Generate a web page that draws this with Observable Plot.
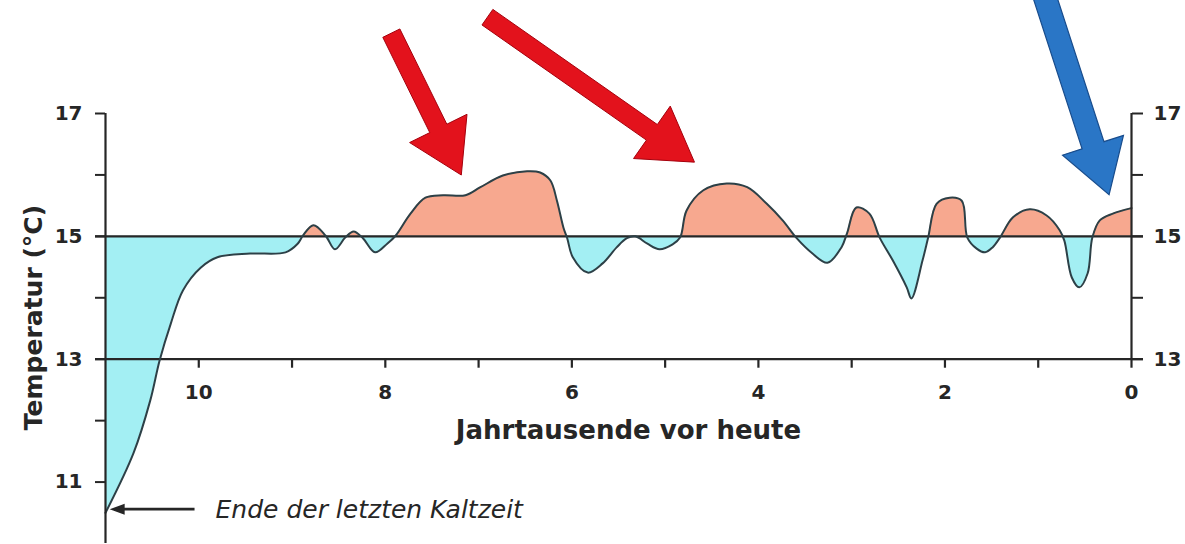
<!DOCTYPE html>
<html>
<head>
<meta charset="utf-8">
<script src="https://cdn.jsdelivr.net/npm/d3@7"></script>
<script src="https://cdn.jsdelivr.net/npm/@observablehq/plot@0.6"></script>
<style>
  html, body { margin: 0; padding: 0; background: #fff; }
  #chart svg { display: block; }
</style>
</head>
<body>
<div id="chart"></div>
<script>
// ---- data ----
const years = [11.0, 10.70, 10.52, 10.42, 10.30, 10.17, 9.98, 9.80, 9.45, 9.07, 8.94, 8.88, 8.77, 8.64, 8.54, 8.43, 8.34, 8.24, 8.11, 7.98, 7.89, 7.73, 7.57, 7.38, 7.14, 6.98, 6.74, 6.48, 6.34, 6.23, 6.16, 6.09, 6.05, 5.99, 5.83, 5.67, 5.52, 5.41, 5.32, 5.19, 5.06, 4.92, 4.84, 4.77, 4.59, 4.34, 4.12, 3.91, 3.74, 3.59, 3.42, 3.26, 3.11, 3.05, 2.95, 2.81, 2.70, 2.56, 2.41, 2.36, 2.24, 2.18, 2.09, 1.95, 1.82, 1.76, 1.66, 1.57, 1.49, 1.41, 1.27, 1.09, 0.91, 0.77, 0.72, 0.64, 0.56, 0.47, 0.42, 0.34, 0.20, 0.0];
const temps = [10.50, 11.47, 12.33, 12.98, 13.58, 14.12, 14.49, 14.66, 14.72, 14.74, 14.88, 15.02, 15.18, 15.01, 14.79, 14.98, 15.08, 14.97, 14.74, 14.88, 15.01, 15.37, 15.63, 15.67, 15.67, 15.80, 15.99, 16.06, 16.04, 15.91, 15.58, 15.14, 14.97, 14.66, 14.41, 14.56, 14.82, 14.97, 15.00, 14.88, 14.79, 14.87, 14.98, 15.42, 15.75, 15.86, 15.80, 15.53, 15.26, 14.97, 14.72, 14.57, 14.82, 15.05, 15.47, 15.37, 14.98, 14.61, 14.17, 13.99, 14.61, 14.98, 15.53, 15.63, 15.58, 14.98, 14.80, 14.74, 14.82, 14.98, 15.31, 15.44, 15.34, 15.10, 14.93, 14.33, 14.17, 14.40, 14.98, 15.26, 15.37, 15.46];
const baseline = 15;
const xAxisLevel = 13;
const leftTicks = [11, 12, 13, 14, 15, 16, 17];
const rightTicks = [13, 14, 15, 16, 17];
const xTicks = [10, 9, 8, 7, 6, 5, 4, 3, 2, 1, 0];
const xLabels = [10, 8, 6, 4, 2, 0];
const xTitle = "Jahrtausende vor heute";
const yTitle = "Temperatur (°C)";
const noteText = "Ende der letzten Kaltzeit";
const noteFromYear = 10.04, noteToYear = 10.95, noteTemp = 10.55, noteTextYear = 9.82;
const arrowKinds = ["warm", "warm", "cold"];
const arrowFromYear = [7.93, 6.90, 0.93];
const arrowFromTemp = [18.30, 18.56, 18.92];
const arrowToYear = [7.18, 4.68, 0.235];
const arrowToTemp = [15.99, 16.20, 15.67];

// ---- styles ----
const INK = "#262626";
const LINE = "#2c4047";
const WARM = "#f7a88f";
const COLD = "#a3eff3";
const CURVE = "catmull-rom";
const arrowStyle = {
  warm: {shaft: 19, headW: 64, headL: 52, fill: "#e3121c", stroke: "#a5000c", sw: 1},
  cold: {shaft: 23, headW: 64, headL: 52, fill: "#2a76c6", stroke: "#184c8c", sw: 1.2},
  note: {shaft: 2.8, headW: 11, headL: 15, fill: INK, stroke: "none", sw: 0}
};

const data = years.map((year, i) => ({year, temp: temps[i]}));
const bigArrows = arrowKinds.map((kind, i) => ({kind, x1: arrowFromYear[i], y1: arrowFromTemp[i], x2: arrowToYear[i], y2: arrowToTemp[i]}));
const noteArrow = [{kind: "note", x1: noteFromYear, y1: noteTemp, x2: noteToYear, y2: noteTemp}];

// custom filled block arrows, positioned through Plot's scales
function blockArrows(list) {
  return (index, scales) => {
    const g = d3.create("svg:g");
    for (const a of list) {
      const s = arrowStyle[a.kind];
      const x1 = scales.x(a.x1), y1 = scales.y(a.y1), x2 = scales.x(a.x2), y2 = scales.y(a.y2);
      const dx = x2 - x1, dy = y2 - y1, len = Math.hypot(dx, dy);
      const ux = dx / len, uy = dy / len, nx = -uy, ny = ux;
      const bx = x2 - ux * s.headL, by = y2 - uy * s.headL;
      const pts = [
        [x1 + nx * s.shaft / 2, y1 + ny * s.shaft / 2],
        [bx + nx * s.shaft / 2, by + ny * s.shaft / 2],
        [bx + nx * s.headW / 2, by + ny * s.headW / 2],
        [x2, y2],
        [bx - nx * s.headW / 2, by - ny * s.headW / 2],
        [bx - nx * s.shaft / 2, by - ny * s.shaft / 2],
        [x1 - nx * s.shaft / 2, y1 - ny * s.shaft / 2]
      ];
      g.append("polygon")
        .attr("points", pts.map(p => p.join(",")).join(" "))
        .attr("fill", s.fill)
        .attr("stroke", s.stroke)
        .attr("stroke-width", s.sw)
        .attr("stroke-linejoin", "miter");
    }
    return g.node();
  };
}

// fallback fill (if differenceY is unavailable): clipped areas via Plot's scales
function fallbackFill(index, scales, values, dimensions) {
  const g = d3.create("svg:g");
  const yb = scales.y(baseline);
  const uid = "c" + Math.random().toString(36).slice(2);
  const defs = g.append("defs");
  defs.append("clipPath").attr("id", uid + "a").append("rect")
    .attr("x", 0).attr("y", 0).attr("width", dimensions.width).attr("height", yb);
  defs.append("clipPath").attr("id", uid + "b").append("rect")
    .attr("x", 0).attr("y", yb).attr("width", dimensions.width).attr("height", dimensions.height);
  const area = d3.area().x(d => scales.x(d.year)).y0(yb).y1(d => scales.y(d.temp)).curve(d3.curveCatmullRom);
  g.append("path").attr("d", area(data)).attr("fill", WARM).attr("clip-path", `url(#${uid}a)`);
  g.append("path").attr("d", area(data)).attr("fill", COLD).attr("clip-path", `url(#${uid}b)`);
  return g.node();
}

const fillMarks = typeof Plot.differenceY === "function"
  ? [Plot.differenceY(data, {
      x: "year", y1: d => baseline, y2: "temp",
      positiveFill: WARM, negativeFill: COLD,
      positiveFillOpacity: 1, negativeFillOpacity: 1,
      stroke: "none", curve: CURVE
    })]
  : [fallbackFill];

const oddLabel = d => (d % 2 ? String(d) : "");

const chart = Plot.plot({
  width: 1185,
  height: 544,
  marginTop: 113,
  marginBottom: 1,
  marginLeft: 105,
  marginRight: 54,
  x: {domain: [11, 0], axis: null},
  y: {domain: [10, 17], axis: null},
  style: {
    fontFamily: "'DejaVu Sans', 'Liberation Sans', sans-serif",
    fontSize: "20px",
    fontWeight: "bold",
    color: INK,
    background: "white"
  },
  marks: [
    ...fillMarks,
    Plot.ruleY([baseline, xAxisLevel], {stroke: INK, strokeWidth: 2.2, insetLeft: -10, insetRight: -12}),
    Plot.line(data, {x: "year", y: "temp", stroke: LINE, strokeWidth: 2, curve: CURVE}),
    Plot.ruleX([11], {stroke: INK, strokeWidth: 2.2}),
    Plot.ruleX([0], {y1: xAxisLevel, y2: 17, stroke: INK, strokeWidth: 2.2}),
    Plot.axisY(leftTicks, {anchor: "left", tickSize: 10, tickPadding: 13, tickFormat: oddLabel, label: null, stroke: INK, strokeWidth: 2, fontSize: 20}),
    Plot.axisY(rightTicks, {anchor: "right", tickSize: 11, tickPadding: 11, tickFormat: oddLabel, label: null, stroke: INK, strokeWidth: 2, fontSize: 20}),
    Plot.ruleX(xTicks, {y1: xAxisLevel, y2: xAxisLevel, insetBottom: -9, stroke: INK, strokeWidth: 2.2}),
    Plot.text(xLabels, {x: d => d, y: xAxisLevel, dy: 33, text: d => String(d), fontSize: 20}),
    Plot.text([xTitle], {frameAnchor: "top", textAnchor: "middle", lineAnchor: "middle", dx: 10, dy: 317, fontSize: 26}),
    Plot.text([yTitle], {frameAnchor: "left", textAnchor: "middle", lineAnchor: "middle", rotate: -90, dx: -72, dy: -11, fontSize: 25}),
    blockArrows(noteArrow),
    Plot.text([noteText], {x: noteTextYear, y: noteTemp, textAnchor: "start", fontStyle: "italic", fontWeight: "normal", fontSize: 25}),
    blockArrows(bigArrows)
  ]
});
document.getElementById("chart").appendChild(chart);
</script>
</body>
</html>
